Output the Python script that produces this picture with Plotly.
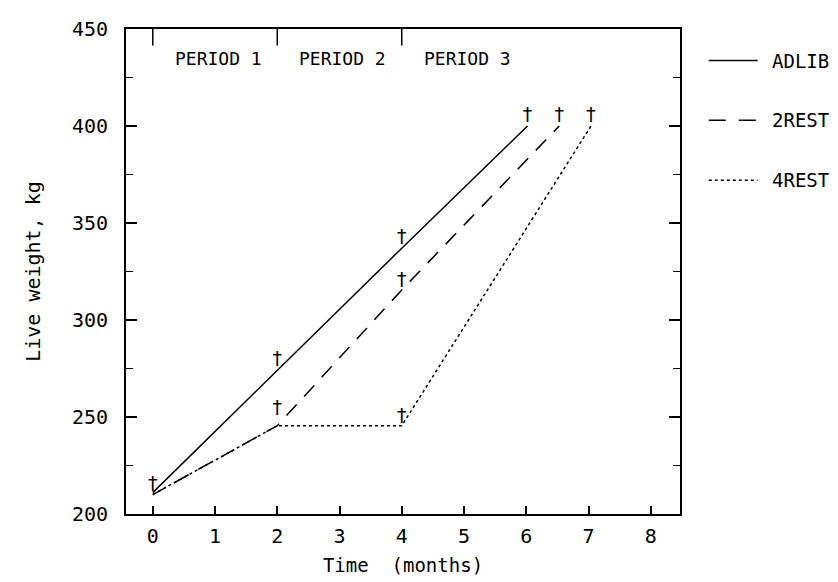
import plotly.graph_objects as go

# ---- data ----
series_names = ["ADLIB", "2REST", "4REST"]
adlib_x = [0, 2, 4, 6.02]
adlib_y = [211, 274, 337, 400]
rest2_x = [0, 2, 4, 6.53]
rest2_y = [210, 245.5, 315.5, 400]
rest4_x = [0, 2, 4, 7.04]
rest4_y = [210, 245.5, 245.5, 400]

mark_x = [0, 2, 4, 6.02, 2, 4, 6.53, 4, 7.04]
mark_y = [215, 279, 342, 405, 254, 320, 405, 250, 405]

period_labels = ["PERIOD 1", "PERIOD 2", "PERIOD 3"]
period_label_x = [1.05, 3.05, 5.05]
period_bounds = [0, 2, 4]

x_ticks = [0, 1, 2, 3, 4, 5, 6, 7, 8]
y_ticks = [200, 250, 300, 350, 400, 450]

FONT = "DejaVu Sans Mono"
BLACK = "black"
dashes = ["solid", "15px,11px", "dot"]
legend_dashes = ["solid", "17px,13px", "dot"]

fig = go.Figure()
for xs, ys, nm, d in zip([adlib_x, rest2_x, rest4_x], [adlib_y, rest2_y, rest4_y],
                         series_names, dashes):
    fig.add_trace(go.Scatter(x=xs, y=ys, mode="lines", name=nm,
                             line=dict(color=BLACK, width=1.5, dash=d),
                             showlegend=False))
fig.add_trace(go.Scatter(x=mark_x, y=mark_y, mode="text", text=["†"] * len(mark_x),
                         textfont=dict(family=FONT, size=19, color=BLACK),
                         showlegend=False, hoverinfo="skip"))

# period boundary ticks and labels
for b in period_bounds:
    fig.add_shape(type="line", x0=b, x1=b, y0=450, y1=441.5, xref="x", yref="y",
                  line=dict(color=BLACK, width=1.5))
for t, px in zip(period_labels, period_label_x):
    fig.add_annotation(x=px, y=435, text=t, showarrow=False, xref="x", yref="y",
                       font=dict(family=FONT, size=18, color=BLACK))

# legend drawn beside the plot
legend_y = [0.935, 0.812, 0.688]
for nm, d, ly in zip(series_names, legend_dashes, legend_y):
    fig.add_shape(type="line", xref="paper", yref="paper", x0=1.052, x1=1.14,
                  y0=ly, y1=ly, line=dict(color=BLACK, width=1.5, dash=d))
    fig.add_annotation(xref="paper", yref="paper", x=1.162, y=ly, text=nm,
                       showarrow=False, xanchor="left", yanchor="middle",
                       font=dict(family=FONT, size=19, color=BLACK))

fig.update_layout(
    width=838, height=582,
    margin=dict(l=118, r=166, t=21, b=76),
    paper_bgcolor="white", plot_bgcolor="white",
    font=dict(family=FONT, size=20, color=BLACK),
    showlegend=False,
    xaxis=dict(range=[-0.43, 8.47], tickvals=x_ticks, ticks="inside", ticklen=8,
               tickwidth=1.5, tickcolor=BLACK, showline=True, linecolor=BLACK,
               linewidth=2, mirror=True, showgrid=False, zeroline=False,
               ticklabelstandoff=3, automargin=False,
               title=dict(text="Time  (months)", standoff=12,
                          font=dict(family=FONT, size=19)),
               tickfont=dict(family=FONT, size=20)),
    yaxis=dict(range=[200, 450], tickvals=y_ticks, ticks="inside", ticklen=11,
               tickwidth=1.5, tickcolor=BLACK, showline=True, linecolor=BLACK,
               linewidth=2, mirror="allticks", showgrid=False, zeroline=False,
               ticklabelstandoff=12, automargin=False,
               minor=dict(dtick=25, ticks="inside", ticklen=7, tickwidth=1.2,
                          tickcolor=BLACK, showgrid=False),
               title=dict(text="Live weight, kg", standoff=26,
                          font=dict(family=FONT, size=20)),
               tickfont=dict(family=FONT, size=20)),
)

fig.write_html("out.html")
